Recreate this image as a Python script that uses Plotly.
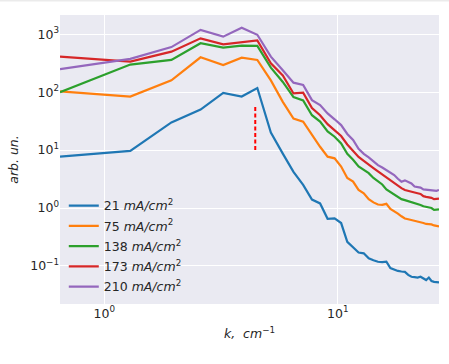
import numpy as np
import plotly.graph_objects as go

# wavenumber grid: k_n = n * dk, n = 1..42
dk = 0.6458
k = [dk * n for n in range(1, 43)]

j21 = [7.7, 9.7, 30, 50, 97, 84, 118, 20, 8.7, 4.2, 2.5, 1.4, 1.2, 0.65, 0.66, 0.55,
       0.26, 0.21, 0.17, 0.165, 0.135, 0.125, 0.118, 0.116, 0.118, 0.092, 0.086, 0.082,
       0.08, 0.079, 0.07, 0.065, 0.064, 0.063, 0.065, 0.06, 0.057, 0.063, 0.055, 0.053,
       0.052, 0.052]
j75 = [103, 84, 160, 400, 295, 395, 360, 160, 68, 35, 31, 18, 11.4, 7.7, 7.2, 5.2,
       3.3, 2.85, 2.05, 1.8, 1.42, 1.25, 1.15, 1.13, 1.18, 0.96, 0.88, 0.8, 0.72, 0.66,
       0.64, 0.62, 0.6, 0.6, 0.58, 0.55, 0.53, 0.53, 0.52, 0.5, 0.49, 0.48]
j138 = [100, 300, 360, 700, 590, 635, 628, 265, 150, 82, 72, 40, 31, 21, 17, 13,
        8.6, 6.8, 5.2, 4.5, 4.0, 3.3, 2.9, 2.55, 2.1, 1.9, 1.7, 1.55, 1.42, 1.37, 1.32,
        1.29, 1.22, 1.18, 1.13, 1.07, 1.05, 1.03, 1.0, 0.93, 0.94, 0.95]
j173 = [410, 336, 500, 850, 670, 730, 785, 316, 195, 95, 98, 53, 40, 28, 22, 17.5,
        12.5, 9.5, 7.6, 6.5, 5.7, 4.9, 4.3, 3.8, 3.3, 2.95, 2.65, 2.4, 2.2, 2.05, 1.97,
        1.9, 1.82, 1.8, 1.75, 1.6, 1.56, 1.53, 1.5, 1.42, 1.42, 1.45]
j210 = [250, 375, 600, 1190, 910, 1300, 980, 410, 240, 146, 133, 73, 60, 43, 34, 27,
        19, 15, 10.5, 8.6, 7.5, 6.3, 5.5, 5.0, 4.5, 4.1, 3.7, 3.2, 2.85, 3.0, 2.8, 2.65,
        2.35, 2.28, 2.25, 2.1, 2.08, 2.05, 2.02, 1.99, 1.98, 2.05]

series_labels = ["21", "75", "138", "173", "210"]
series_values = [j21, j75, j138, j173, j210]
colors = ["#1f77b4", "#ff7f0e", "#2ca02c", "#d62728", "#9467bd"]

# vertical marker
marker_k = [4.43, 4.43]
marker_y = [10, 60]

x_ticks = [1, 10]
x_ticktext = ["10<sup>0</sup>", "10<sup>1</sup>"]
y_ticks = [0.1, 1, 10, 100, 1000]
y_ticktext = ["10<sup>−1</sup>", "10<sup>0</sup>", "10<sup>1</sup>", "10<sup>2</sup>", "10<sup>3</sup>"]

fig = go.Figure()
for lab, vals, c in zip(series_labels, series_values, colors):
    fig.add_trace(go.Scatter(
        x=k, y=vals, mode="lines", name=f"{lab} <i>mA/cm</i><sup>2</sup>",
        legendgroup=lab,
        line=dict(color=c, width=2.2),
    ))

fig.add_trace(go.Scatter(
    x=marker_k, y=marker_y, mode="lines", showlegend=False,
    line=dict(color="#ff0000", width=2, dash="4px,2.5px"),
))

font_family = "DejaVu Sans"
text_color = "#262626"

fig.update_layout(
    width=449, height=364,
    margin=dict(l=60, r=10, t=15, b=60),
    paper_bgcolor="white",
    plot_bgcolor="#EAEAF2",
    font=dict(family=font_family, size=12, color=text_color),
    showlegend=True,
    legend=dict(
        x=0.01, y=0.007, xanchor="left", yanchor="bottom",
        bgcolor="rgba(0,0,0,0)", borderwidth=0,
        font=dict(size=12.5, color=text_color),
        tracegroupgap=1,
    ),
    xaxis=dict(
        type="log",
        range=[np.log10(k[0]), np.log10(k[-1])],
        tickvals=x_ticks, ticktext=x_ticktext,
        showgrid=True, gridcolor="white", gridwidth=1.2,
        zeroline=False, showline=False, ticks="",
        tickfont=dict(size=12.5),
        title=dict(text="<i>k,</i>  <i>cm</i><sup>−1</sup>", font=dict(size=12.5), standoff=9),
    ),
    yaxis=dict(
        type="log",
        range=[np.log10(0.022), np.log10(2150)],
        tickvals=y_ticks, ticktext=y_ticktext,
        showgrid=True, gridcolor="white", gridwidth=1.2,
        zeroline=False, showline=False, ticks="",
        tickfont=dict(size=12.5),
        title=dict(text="<i>arb. un.</i>", font=dict(size=12.5), standoff=8),
    ),
    shapes=[dict(
        type="line", xref="paper", yref="paper",
        x0=-60 / 379, x1=1 + 10 / 379, y0=1 + 14.5 / 289, y1=1 + 14.5 / 289,
        line=dict(color="#ebebeb", width=2),
    )],
)

fig.write_html("out.html")
